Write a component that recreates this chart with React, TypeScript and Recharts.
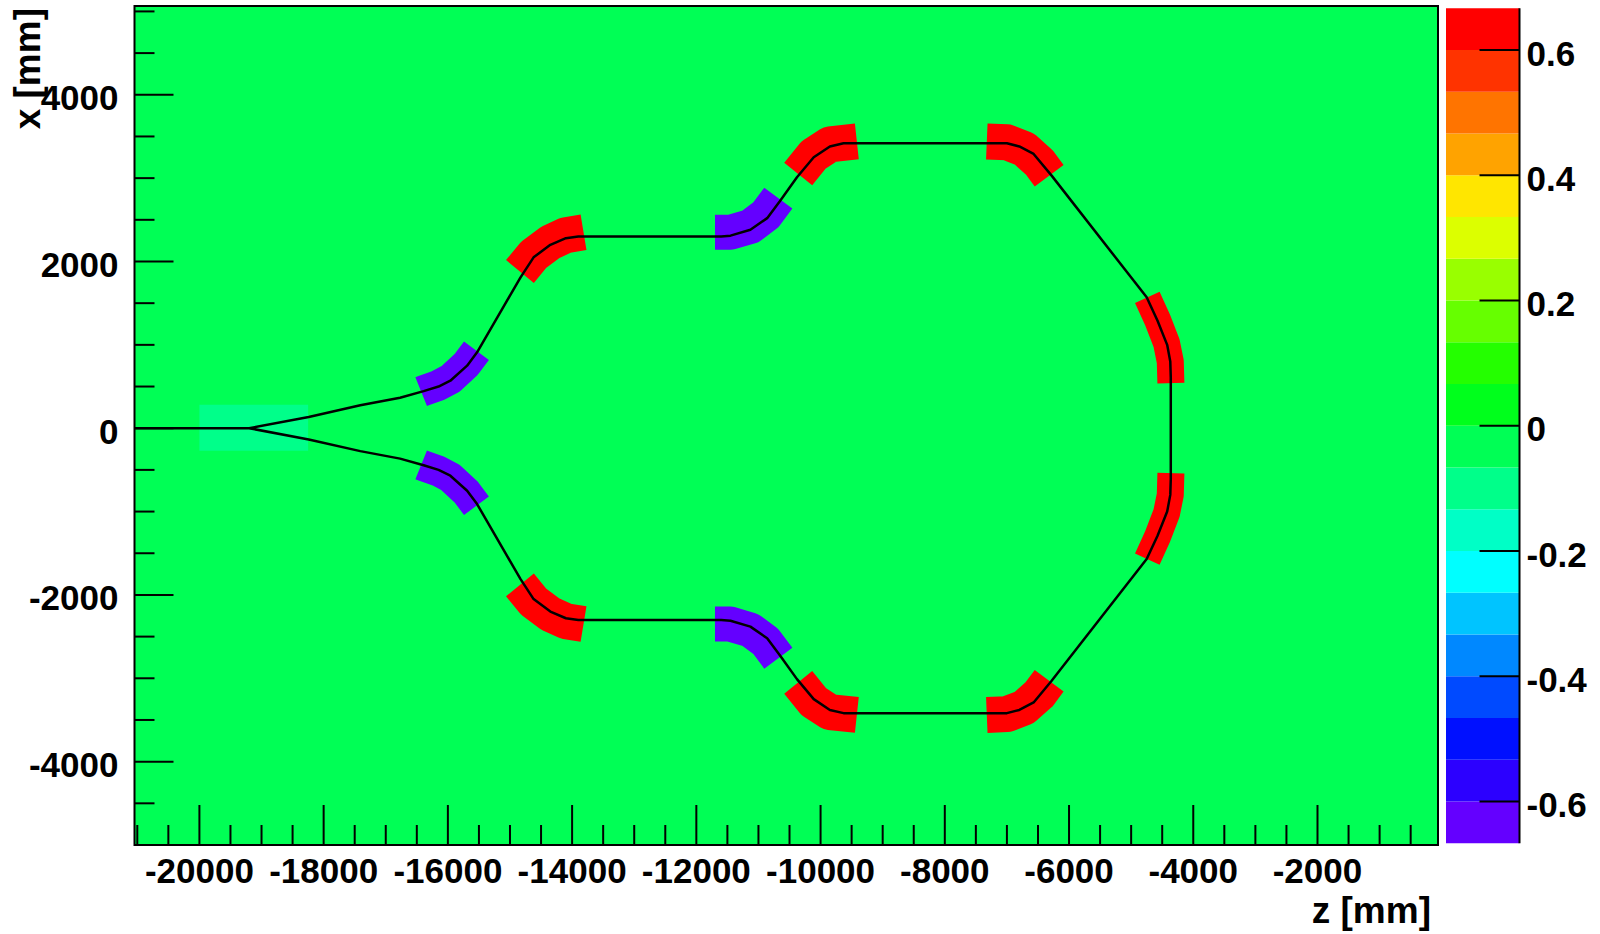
import React from 'react';
import { ComposedChart, Line, XAxis, YAxis, ReferenceArea } from 'recharts';

// ---------- axes ----------
const zDomain: [number, number] = [-21045, -60];
const xDomain: [number, number] = [-5000, 5065];
const zMajorTicks = [-20000, -18000, -16000, -14000, -12000, -10000, -8000, -6000, -4000, -2000];
const zTicks = [
  -21000, -20500, -20000, -19500, -19000, -18500, -18000, -17500, -17000, -16500, -16000, -15500,
  -15000, -14500, -14000, -13500, -13000, -12500, -12000, -11500, -11000, -10500, -10000, -9500,
  -9000, -8500, -8000, -7500, -7000, -6500, -6000, -5500, -5000, -4500, -4000, -3500, -3000,
  -2500, -2000, -1500, -1000, -500,
];
const xMajorTicks = [-4000, -2000, 0, 2000, 4000];
const xTicks = [
  -5000, -4500, -4000, -3500, -3000, -2500, -2000, -1500, -1000, -500, 0, 500, 1000, 1500, 2000,
  2500, 3000, 3500, 4000, 4500, 5000,
];

// ---------- palette (colour bar), bottom -> top ----------
const paletteEdges = [
  -0.6667, -0.6, -0.5333, -0.4667, -0.4, -0.3333, -0.2667, -0.2, -0.1333, -0.0667, 0, 0.0667,
  0.1333, 0.2, 0.2667, 0.3333, 0.4, 0.4667, 0.5333, 0.6, 0.6667,
];
const paletteColors = [
  '#6400ff', '#2c00ff', '#0010ff', '#004aff', '#0088ff', '#00c4ff', '#00ffff', '#00ffc6',
  '#00ff8a', '#00ff55', '#00ff1c', '#24ff00', '#66ff00', '#99ff00', '#dcff00', '#ffe600',
  '#ffa300', '#ff7400', '#ff3300', '#ff0000',
];
const paletteTicks = [-0.6, -0.4, -0.2, 0, 0.2, 0.4, 0.6];

// ---------- field values ----------
const backgroundValue = -0.01;
const startBlock = { z1: -20000, z2: -18250, x1: -270, x2: 280, value: -0.1 };

// ---------- beam trajectory (z, x) in mm ----------
type P = { z: number; x: number };
const upperPath: P[] = [
  { z: -21045, x: 0 }, { z: -19200, x: 0 }, { z: -18240, x: 135 }, { z: -17410, x: 275 },
  { z: -16770, x: 365 }, { z: -16390, x: 445 }, { z: -16150, x: 500 }, { z: -15960, x: 570 },
  { z: -15690, x: 750 }, { z: -15530, x: 910 }, { z: -14830, x: 1810 }, { z: -14620, x: 2050 },
  { z: -14350, x: 2200 }, { z: -14100, x: 2280 }, { z: -13900, x: 2300 }, { z: -11600, x: 2300 },
  { z: -11450, x: 2310 }, { z: -11130, x: 2380 }, { z: -10860, x: 2520 }, { z: -10650, x: 2730 },
  { z: -10380, x: 3010 }, { z: -10110, x: 3250 }, { z: -9850, x: 3380 }, { z: -9630, x: 3418 },
  { z: -7000, x: 3418 }, { z: -6800, x: 3380 }, { z: -6570, x: 3290 }, { z: -6280, x: 3030 },
  { z: -4750, x: 1570 }, { z: -4575, x: 1290 }, { z: -4420, x: 1000 }, { z: -4370, x: 800 },
  { z: -4362, x: 610 },
];
const lowerPath: P[] = [
  { z: -4362, x: -610 }, { z: -4370, x: -800 }, { z: -4420, x: -1000 }, { z: -4575, x: -1290 },
  { z: -4750, x: -1570 }, { z: -6280, x: -3030 }, { z: -6570, x: -3290 }, { z: -6800, x: -3380 },
  { z: -7000, x: -3418 }, { z: -9630, x: -3418 }, { z: -9850, x: -3380 }, { z: -10110, x: -3250 },
  { z: -10380, x: -3010 }, { z: -10650, x: -2730 }, { z: -10860, x: -2520 }, { z: -11130, x: -2380 },
  { z: -11450, x: -2310 }, { z: -11600, x: -2300 }, { z: -13900, x: -2300 }, { z: -14100, x: -2280 },
  { z: -14350, x: -2200 }, { z: -14620, x: -2050 }, { z: -14830, x: -1810 }, { z: -15530, x: -910 },
  { z: -15690, x: -750 }, { z: -15960, x: -570 }, { z: -16150, x: -500 }, { z: -16390, x: -445 },
  { z: -16770, x: -365 }, { z: -17410, x: -275 }, { z: -18240, x: -135 }, { z: -19200, x: 0 },
];

// ---------- magnet field regions (centre line of each band) ----------
const p1Up: P[] = [{ z: -16430, x: 440 }, { z: -16390, x: 452 }, { z: -16150, x: 515 }, { z: -15960, x: 590 }, { z: -15700, x: 770 }, { z: -15540, x: 930 }];
const r1Up: P[] = [{ z: -14840, x: 1880 }, { z: -14620, x: 2080 }, { z: -14350, x: 2230 }, { z: -14100, x: 2315 }, { z: -13816, x: 2350 }];
const p2Up: P[] = [{ z: -11700, x: 2350 }, { z: -11450, x: 2350 }, { z: -11130, x: 2420 }, { z: -10880, x: 2560 }, { z: -10680, x: 2760 }];
const r2Up: P[] = [{ z: -10360, x: 3050 }, { z: -10110, x: 3280 }, { z: -9850, x: 3405 }, { z: -9416, x: 3440 }];
const r3Up: P[] = [{ z: -7324, x: 3440 }, { z: -7000, x: 3430 }, { z: -6720, x: 3350 }, { z: -6480, x: 3190 }, { z: -6320, x: 3030 }];
const r4Up: P[] = [{ z: -4740, x: 1570 }, { z: -4575, x: 1300 }, { z: -4430, x: 1020 }, { z: -4370, x: 800 }, { z: -4360, x: 540 }];
const p1Dn: P[] = [{ z: -16430, x: -440 }, { z: -16390, x: -452 }, { z: -16150, x: -515 }, { z: -15960, x: -590 }, { z: -15700, x: -770 }, { z: -15540, x: -930 }];
const r1Dn: P[] = [{ z: -14840, x: -1880 }, { z: -14620, x: -2080 }, { z: -14350, x: -2230 }, { z: -14100, x: -2315 }, { z: -13816, x: -2350 }];
const p2Dn: P[] = [{ z: -11700, x: -2350 }, { z: -11450, x: -2350 }, { z: -11130, x: -2420 }, { z: -10880, x: -2560 }, { z: -10680, x: -2760 }];
const r2Dn: P[] = [{ z: -10360, x: -3050 }, { z: -10110, x: -3280 }, { z: -9850, x: -3405 }, { z: -9416, x: -3440 }];
const r3Dn: P[] = [{ z: -7324, x: -3440 }, { z: -7000, x: -3430 }, { z: -6720, x: -3350 }, { z: -6480, x: -3190 }, { z: -6320, x: -3030 }];
const r4Dn: P[] = [{ z: -4740, x: -1570 }, { z: -4575, x: -1300 }, { z: -4430, x: -1020 }, { z: -4370, x: -800 }, { z: -4360, x: -540 }];

const magnetNames = ['p1Up', 'r1Up', 'p2Up', 'r2Up', 'r3Up', 'r4Up', 'p1Dn', 'r1Dn', 'p2Dn', 'r2Dn', 'r3Dn', 'r4Dn'];
const magnetPoints = [p1Up, r1Up, p2Up, r2Up, r3Up, r4Up, p1Dn, r1Dn, p2Dn, r2Dn, r3Dn, r4Dn];
const magnetValues = [-0.65, 0.65, -0.65, 0.65, 0.65, 0.65, -0.65, 0.65, -0.65, 0.65, 0.65, 0.65];

// styles (band thickness in px), kept apart from the data
const bandWidth: Record<string, number> = {
  p1Up: 31, r1Up: 36, p2Up: 35, r2Up: 36, r3Up: 36, r4Up: 27,
  p1Dn: 31, r1Dn: 36, p2Dn: 35, r2Dn: 36, r3Dn: 36, r4Dn: 27,
};

const FONT = '"Liberation Sans", Arial, Helvetica, sans-serif';

function colorFor(v: number): string {
  for (let i = 0; i < paletteColors.length; i++) {
    if (v >= paletteEdges[i] && v < paletteEdges[i + 1]) return paletteColors[i];
  }
  return v < 0 ? paletteColors[0] : paletteColors[paletteColors.length - 1];
}

const ZTick = (props: any) => {
  const { x, y, payload } = props;
  const v = payload.value as number;
  const major = zMajorTicks.includes(v);
  return (
    <g>
      <line x1={x} x2={x} y1={y} y2={y - (major ? 40 : 20)} stroke="#000" strokeWidth={2} />
      {major && (
        <text x={x} y={y + 38} textAnchor="middle" fontFamily={FONT} fontWeight="bold" fontSize={35} fill="#000">
          {String(v)}
        </text>
      )}
    </g>
  );
};

const XTick = (props: any) => {
  const { x, y, payload } = props;
  const v = payload.value as number;
  const major = xMajorTicks.includes(v);
  return (
    <g>
      <line x1={x} x2={x + (major ? 39 : 20)} y1={y} y2={y} stroke="#000" strokeWidth={2} />
      {major && (
        <text x={x - 16} y={y + 15.5} textAnchor="end" fontFamily={FONT} fontWeight="bold" fontSize={35} fill="#000">
          {String(v)}
        </text>
      )}
    </g>
  );
};

const PaletteTick = (props: any) => {
  const { x, y, payload } = props;
  const v = payload.value as number;
  return (
    <g>
      <line x1={x - 40} x2={x} y1={y} y2={y} stroke="#000" strokeWidth={2} />
      <text x={x + 7} y={y + 15.5} textAnchor="start" fontFamily={FONT} fontWeight="bold" fontSize={35} fill="#000">
        {String(v)}
      </text>
    </g>
  );
};

export default function App() {
  const trajectory = [...upperPath, ...lowerPath];
  return (
    <div style={{ position: 'absolute', left: 0, top: 0, width: 1600, height: 934, background: '#fff' }}>
      <div style={{ position: 'absolute', left: 0, top: 0 }}>
        <ComposedChart width={1600} height={934} margin={{ top: 6, right: 162, bottom: 29, left: 34.5 }}>
          <ReferenceArea
            x1={zDomain[0]} x2={zDomain[1]} y1={xDomain[0]} y2={xDomain[1]}
            fill={colorFor(backgroundValue)} fillOpacity={1} stroke="#000" strokeWidth={2}
          />
          <ReferenceArea
            x1={startBlock.z1} x2={startBlock.z2} y1={startBlock.x1} y2={startBlock.x2}
            fill={colorFor(startBlock.value)} fillOpacity={1} stroke="none"
          />
          {magnetPoints.map((pts, i) => (
            <Line
              key={magnetNames[i]}
              data={pts}
              dataKey="x"
              type="linear"
              stroke={colorFor(magnetValues[i])}
              strokeWidth={bandWidth[magnetNames[i]]}
              strokeLinecap="butt"
              strokeLinejoin="round"
              dot={false}
              activeDot={false}
              isAnimationActive={false}
            />
          ))}
          <Line
            data={trajectory}
            dataKey="x"
            type="linear"
            stroke="#000"
            strokeWidth={2.5}
            strokeLinejoin="round"
            dot={false}
            activeDot={false}
            isAnimationActive={false}
          />
          <XAxis
            dataKey="z" type="number" domain={zDomain} allowDataOverflow ticks={zTicks} interval={0}
            height={60} axisLine={false} tickLine={false} tickSize={0} tickMargin={0} tick={<ZTick />}
          />
          <YAxis
            dataKey="x" type="number" domain={xDomain} allowDataOverflow ticks={xTicks} interval={0}
            width={100} axisLine={false} tickLine={false} tickSize={0} tickMargin={0} tick={<XTick />}
          />
        </ComposedChart>
      </div>
      <div style={{ position: 'absolute', left: 1446, top: 0 }}>
        <ComposedChart
          width={200} height={934}
          data={paletteColors.map((c, i) => ({ pos: 0.5, val: (paletteEdges[i] + paletteEdges[i + 1]) / 2 }))}
          margin={{ top: 8.3, right: 26.5, bottom: 90.7, left: 0 }}
        >
          {paletteColors.map((c, i) => (
            <ReferenceArea
              key={c + i}
              x1={0} x2={1} y1={paletteEdges[i]} y2={paletteEdges[i + 1]}
              fill={c} fillOpacity={1} stroke="none"
            />
          ))}
          <XAxis dataKey="pos" type="number" domain={[0, 1]} allowDataOverflow hide />
          <YAxis
            dataKey="val" type="number" orientation="right" domain={[-0.6667, 0.6667]} allowDataOverflow
            ticks={paletteTicks} interval={0} width={100}
            axisLine={{ stroke: '#000', strokeWidth: 2 }} tickLine={false} tickSize={0} tickMargin={0}
            tick={<PaletteTick />}
          />
        </ComposedChart>
      </div>
      <svg width={1600} height={934} style={{ position: 'absolute', left: 0, top: 0, pointerEvents: 'none' }}>
        <text x={1431} y={923} textAnchor="end" fontFamily={FONT} fontWeight="bold" fontSize={37} fill="#000">
          z [mm]
        </text>
        <text
          x={40} y={8} textAnchor="end" transform="rotate(-90, 40, 8)"
          fontFamily={FONT} fontWeight="bold" fontSize={37} fill="#000"
        >
          x [mm]
        </text>
      </svg>
    </div>
  );
}
